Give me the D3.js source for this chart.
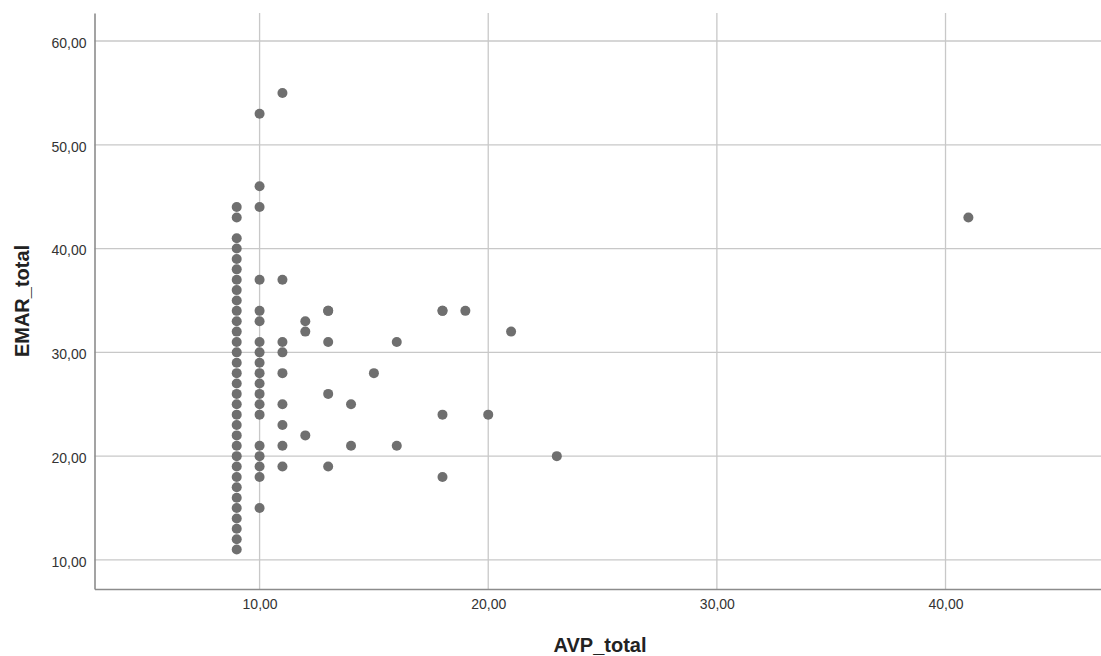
<!DOCTYPE html>
<html>
<head>
<meta charset="utf-8">
<script src="https://cdn.jsdelivr.net/npm/d3@7"></script>
<style>
  body { margin: 0; background: #fff; }
  text { font-family: "Liberation Sans", Arial, sans-serif; }
</style>
</head>
<body>
<script>
// AVP_total values (x) and matching EMAR_total values (y)
const avpTotal = [
  9,9,9,9,9,9,9,9,9,9,9,9,9,9,9,9,9,9,9,9,9,9,9,9,9,9,9,9,9,9,9,9,9,
  10,10,10,10,10,10,10,10,10,10,10,10,10,10,10,10,10,10,10,
  11,11,11,11,11,11,11,11,11,
  12,12,12,
  13,13,13,13,13,
  14,14,
  15,
  16,16,
  18,18,18,18,
  19,20,21,23,41
];
const emarTotal = [
  11,12,13,14,15,16,17,18,19,20,21,22,23,24,25,26,27,28,29,30,31,32,33,34,35,36,37,38,39,40,41,43,44,
  15,18,19,20,21,24,25,26,27,28,29,30,31,33,34,37,44,46,53,
  19,21,23,25,28,30,31,37,55,
  22,32,33,
  19,26,31,34,34,
  21,25,
  28,
  21,31,
  18,24,34,34,
  34,24,32,20,43
];
const xTicks = [10, 20, 30, 40];
const yTicks = [10, 20, 30, 40, 50, 60];
const xTitle = "AVP_total";
const yTitle = "EMAR_total";

const points = avpTotal.map((v, i) => ({ x: v, y: emarTotal[i] }));

const width = 1101, height = 656;
const plotLeft = 94.5, plotTop = 13, plotRight = 1101, plotBottom = 589;

const svg = d3.select('body')
  .append('svg')
  .attr('width', width)
  .attr('height', height);

const x = d3.scaleLinear().domain([2.78, 46.8]).range([plotLeft, plotRight]);
const y = d3.scaleLinear().domain([7.2, 62.7]).range([plotBottom, plotTop]);

const fmt = d => d3.format(".2f")(d).replace(".", ",");

// gridlines
svg.append("g")
  .selectAll("line")
  .data(yTicks)
  .enter()
  .append("line")
  .attr("x1", plotLeft)
  .attr("x2", plotRight)
  .attr("y1", d => y(d))
  .attr("y2", d => y(d))
  .attr("stroke", "#c8c8c8")
  .attr("stroke-width", 1.3);

svg.append("g")
  .selectAll("line")
  .data(xTicks)
  .enter()
  .append("line")
  .attr("x1", d => x(d))
  .attr("x2", d => x(d))
  .attr("y1", plotTop)
  .attr("y2", plotBottom)
  .attr("stroke", "#c8c8c8")
  .attr("stroke-width", 1.3);

// axes
const xAxis = svg.append("g")
  .attr("transform", `translate(0,${plotBottom})`)
  .call(d3.axisBottom(x).tickValues(xTicks).tickSize(0).tickPadding(10).tickFormat(fmt));
xAxis.select(".domain").attr("stroke", "#8c8c8c").attr("stroke-width", 1.6);
xAxis.selectAll("text").attr("font-size", "14px").attr("fill", "#333")
  .attr("font-family", "Liberation Sans, Arial, sans-serif");

const yAxis = svg.append("g")
  .attr("transform", `translate(${plotLeft},0)`)
  .call(d3.axisLeft(y).tickValues(yTicks).tickSize(0).tickPadding(8).tickFormat(fmt));
yAxis.select(".domain").attr("stroke", "#8c8c8c").attr("stroke-width", 1.6);
yAxis.selectAll("text").attr("font-size", "14px").attr("fill", "#333")
  .attr("dy", "0.45em")
  .attr("font-family", "Liberation Sans, Arial, sans-serif");

// points
svg.append("g")
  .selectAll("circle")
  .data(points)
  .enter()
  .append("circle")
  .attr("cx", d => x(d.x))
  .attr("cy", d => y(d.y))
  .attr("r", 5)
  .attr("fill", "#6f6f6f");

// titles
svg.append("text")
  .attr("x", 600)
  .attr("y", 652)
  .attr("text-anchor", "middle")
  .style("font-size", "20px")
  .style("font-weight", "bold")
  .attr("fill", "#222")
  .text(xTitle);

svg.append("text")
  .attr("transform", "translate(29,301) rotate(-90)")
  .attr("text-anchor", "middle")
  .style("font-size", "20px")
  .style("font-weight", "bold")
  .attr("fill", "#222")
  .text(yTitle);
</script>
</body>
</html>
